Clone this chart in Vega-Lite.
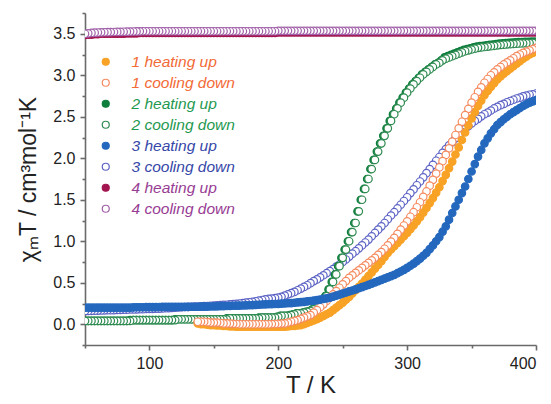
{
"$schema": "https://vega.github.io/schema/vega-lite/v6.json",
"autosize": "none",
"width": 451,
"height": 332,
"padding": {"left": 85, "top": 13, "right": 15, "bottom": 59},
"background": "white",
"config": {
  "view": {"stroke": null},
  "axis": {"grid": false, "domainColor": "#6a6a6a", "tickColor": "#6a6a6a", "domainWidth": 1.6, "tickWidth": 1.6, "labelColor": "#222222", "labelFont": "Liberation Sans", "labelFontSize": 16, "titleFont": "Liberation Sans", "titleColor": "#222222", "titleFontWeight": "normal"}
},
"data": {"values": [
{"s":"4h","T":50,"v":3.485},{"s":"4h","T":52.5,"v":3.49},{"s":"4h","T":55,"v":3.49},{"s":"4h","T":57.5,"v":3.495},{"s":"4h","T":60,"v":3.495},{"s":"4h","T":62.5,"v":3.5},{"s":"4h","T":65,"v":3.5},{"s":"4h","T":67.5,"v":3.5},{"s":"4h","T":70,"v":3.5},{"s":"4h","T":72.5,"v":3.5},{"s":"4h","T":75,"v":3.5},{"s":"4h","T":77.5,"v":3.5},{"s":"4h","T":80,"v":3.5},{"s":"4h","T":82.5,"v":3.505},{"s":"4h","T":85,"v":3.505},{"s":"4h","T":87.5,"v":3.505},{"s":"4h","T":90,"v":3.505},{"s":"4h","T":92.5,"v":3.51},{"s":"4h","T":95,"v":3.51},{"s":"4h","T":97.5,"v":3.51},{"s":"4h","T":100,"v":3.51},{"s":"4h","T":102.5,"v":3.51},{"s":"4h","T":105,"v":3.51},{"s":"4h","T":107.5,"v":3.51},{"s":"4h","T":110,"v":3.51},{"s":"4h","T":112.5,"v":3.51},{"s":"4h","T":115,"v":3.51},{"s":"4h","T":117.5,"v":3.51},{"s":"4h","T":120,"v":3.51},{"s":"4h","T":122.5,"v":3.51},{"s":"4h","T":125,"v":3.51},{"s":"4h","T":127.5,"v":3.51},{"s":"4h","T":130,"v":3.51},{"s":"4h","T":132.5,"v":3.51},{"s":"4h","T":135,"v":3.51},{"s":"4h","T":137.5,"v":3.51},{"s":"4h","T":140,"v":3.51},{"s":"4h","T":142.5,"v":3.51},{"s":"4h","T":145,"v":3.51},{"s":"4h","T":147.5,"v":3.51},{"s":"4h","T":150,"v":3.51},{"s":"4h","T":152.5,"v":3.51},{"s":"4h","T":155,"v":3.51},{"s":"4h","T":157.5,"v":3.51},{"s":"4h","T":160,"v":3.51},{"s":"4h","T":162.5,"v":3.51},{"s":"4h","T":165,"v":3.51},{"s":"4h","T":167.5,"v":3.51},{"s":"4h","T":170,"v":3.51},{"s":"4h","T":172.5,"v":3.51},{"s":"4h","T":175,"v":3.51},{"s":"4h","T":177.5,"v":3.51},{"s":"4h","T":180,"v":3.51},{"s":"4h","T":182.5,"v":3.51},{"s":"4h","T":185,"v":3.51},{"s":"4h","T":187.5,"v":3.51},{"s":"4h","T":190,"v":3.51},{"s":"4h","T":192.5,"v":3.51},{"s":"4h","T":195,"v":3.51},{"s":"4h","T":197.5,"v":3.51},{"s":"4h","T":200,"v":3.515},{"s":"4h","T":202.5,"v":3.515},{"s":"4h","T":205,"v":3.515},{"s":"4h","T":207.5,"v":3.515},{"s":"4h","T":210,"v":3.515},{"s":"4h","T":212.5,"v":3.515},{"s":"4h","T":215,"v":3.515},{"s":"4h","T":217.5,"v":3.515},{"s":"4h","T":220,"v":3.515},{"s":"4h","T":222.5,"v":3.515},{"s":"4h","T":225,"v":3.515},{"s":"4h","T":227.5,"v":3.515},{"s":"4h","T":230,"v":3.515},{"s":"4h","T":232.5,"v":3.515},{"s":"4h","T":235,"v":3.515},{"s":"4h","T":237.5,"v":3.515},{"s":"4h","T":240,"v":3.515},{"s":"4h","T":242.5,"v":3.515},{"s":"4h","T":245,"v":3.515},{"s":"4h","T":247.5,"v":3.515},{"s":"4h","T":250,"v":3.515},{"s":"4h","T":252.5,"v":3.515},{"s":"4h","T":255,"v":3.515},{"s":"4h","T":257.5,"v":3.515},{"s":"4h","T":260,"v":3.515},{"s":"4h","T":262.5,"v":3.515},{"s":"4h","T":265,"v":3.515},{"s":"4h","T":267.5,"v":3.515},{"s":"4h","T":270,"v":3.515},{"s":"4h","T":272.5,"v":3.515},{"s":"4h","T":275,"v":3.515},{"s":"4h","T":277.5,"v":3.515},{"s":"4h","T":280,"v":3.515},{"s":"4h","T":282.5,"v":3.515},{"s":"4h","T":285,"v":3.515},{"s":"4h","T":287.5,"v":3.515},{"s":"4h","T":290,"v":3.515},{"s":"4h","T":292.5,"v":3.515},{"s":"4h","T":295,"v":3.515},{"s":"4h","T":297.5,"v":3.515},{"s":"4h","T":300,"v":3.515},{"s":"4h","T":302.5,"v":3.515},{"s":"4h","T":305,"v":3.515},{"s":"4h","T":307.5,"v":3.515},{"s":"4h","T":310,"v":3.515},{"s":"4h","T":312.5,"v":3.515},{"s":"4h","T":315,"v":3.515},{"s":"4h","T":317.5,"v":3.515},{"s":"4h","T":320,"v":3.515},{"s":"4h","T":322.5,"v":3.515},{"s":"4h","T":325,"v":3.515},{"s":"4h","T":327.5,"v":3.515},{"s":"4h","T":330,"v":3.515},{"s":"4h","T":332.5,"v":3.515},{"s":"4h","T":335,"v":3.515},{"s":"4h","T":337.5,"v":3.515},{"s":"4h","T":340,"v":3.515},{"s":"4h","T":342.5,"v":3.515},{"s":"4h","T":345,"v":3.515},{"s":"4h","T":347.5,"v":3.515},{"s":"4h","T":350,"v":3.515},{"s":"4h","T":352.5,"v":3.515},{"s":"4h","T":355,"v":3.515},{"s":"4h","T":357.5,"v":3.515},{"s":"4h","T":360,"v":3.515},{"s":"4h","T":362.5,"v":3.515},{"s":"4h","T":365,"v":3.515},{"s":"4h","T":367.5,"v":3.515},{"s":"4h","T":370,"v":3.515},{"s":"4h","T":372.5,"v":3.515},{"s":"4h","T":375,"v":3.515},{"s":"4h","T":377.5,"v":3.515},{"s":"4h","T":380,"v":3.515},{"s":"4h","T":382.5,"v":3.515},{"s":"4h","T":385,"v":3.515},{"s":"4h","T":387.5,"v":3.515},{"s":"4h","T":390,"v":3.515},{"s":"4h","T":392.5,"v":3.515},{"s":"4h","T":395,"v":3.515},{"s":"4h","T":397.5,"v":3.515},{"s":"4h","T":400,"v":3.515},
{"s":"4c","T":400,"v":3.535},{"s":"4c","T":397.5,"v":3.535},{"s":"4c","T":395,"v":3.535},{"s":"4c","T":392.5,"v":3.535},{"s":"4c","T":390,"v":3.535},{"s":"4c","T":387.5,"v":3.535},{"s":"4c","T":385,"v":3.535},{"s":"4c","T":382.5,"v":3.535},{"s":"4c","T":380,"v":3.535},{"s":"4c","T":377.5,"v":3.535},{"s":"4c","T":375,"v":3.535},{"s":"4c","T":372.5,"v":3.535},{"s":"4c","T":370,"v":3.535},{"s":"4c","T":367.5,"v":3.535},{"s":"4c","T":365,"v":3.535},{"s":"4c","T":362.5,"v":3.535},{"s":"4c","T":360,"v":3.535},{"s":"4c","T":357.5,"v":3.535},{"s":"4c","T":355,"v":3.535},{"s":"4c","T":352.5,"v":3.535},{"s":"4c","T":350,"v":3.535},{"s":"4c","T":347.5,"v":3.535},{"s":"4c","T":345,"v":3.535},{"s":"4c","T":342.5,"v":3.535},{"s":"4c","T":340,"v":3.535},{"s":"4c","T":337.5,"v":3.535},{"s":"4c","T":335,"v":3.535},{"s":"4c","T":332.5,"v":3.535},{"s":"4c","T":330,"v":3.535},{"s":"4c","T":327.5,"v":3.535},{"s":"4c","T":325,"v":3.535},{"s":"4c","T":322.5,"v":3.535},{"s":"4c","T":320,"v":3.535},{"s":"4c","T":317.5,"v":3.535},{"s":"4c","T":315,"v":3.535},{"s":"4c","T":312.5,"v":3.535},{"s":"4c","T":310,"v":3.535},{"s":"4c","T":307.5,"v":3.535},{"s":"4c","T":305,"v":3.535},{"s":"4c","T":302.5,"v":3.535},{"s":"4c","T":300,"v":3.535},{"s":"4c","T":297.5,"v":3.535},{"s":"4c","T":295,"v":3.535},{"s":"4c","T":292.5,"v":3.535},{"s":"4c","T":290,"v":3.535},{"s":"4c","T":287.5,"v":3.535},{"s":"4c","T":285,"v":3.535},{"s":"4c","T":282.5,"v":3.535},{"s":"4c","T":280,"v":3.535},{"s":"4c","T":277.5,"v":3.535},{"s":"4c","T":275,"v":3.535},{"s":"4c","T":272.5,"v":3.535},{"s":"4c","T":270,"v":3.535},{"s":"4c","T":267.5,"v":3.535},{"s":"4c","T":265,"v":3.535},{"s":"4c","T":262.5,"v":3.535},{"s":"4c","T":260,"v":3.535},{"s":"4c","T":257.5,"v":3.535},{"s":"4c","T":255,"v":3.535},{"s":"4c","T":252.5,"v":3.535},{"s":"4c","T":250,"v":3.535},{"s":"4c","T":247.5,"v":3.535},{"s":"4c","T":245,"v":3.535},{"s":"4c","T":242.5,"v":3.535},{"s":"4c","T":240,"v":3.535},{"s":"4c","T":237.5,"v":3.535},{"s":"4c","T":235,"v":3.535},{"s":"4c","T":232.5,"v":3.535},{"s":"4c","T":230,"v":3.535},{"s":"4c","T":227.5,"v":3.535},{"s":"4c","T":225,"v":3.535},{"s":"4c","T":222.5,"v":3.535},{"s":"4c","T":220,"v":3.535},{"s":"4c","T":217.5,"v":3.535},{"s":"4c","T":215,"v":3.535},{"s":"4c","T":212.5,"v":3.535},{"s":"4c","T":210,"v":3.535},{"s":"4c","T":207.5,"v":3.535},{"s":"4c","T":205,"v":3.535},{"s":"4c","T":202.5,"v":3.535},{"s":"4c","T":200,"v":3.535},{"s":"4c","T":197.5,"v":3.53},{"s":"4c","T":195,"v":3.53},{"s":"4c","T":192.5,"v":3.53},{"s":"4c","T":190,"v":3.53},{"s":"4c","T":187.5,"v":3.53},{"s":"4c","T":185,"v":3.53},{"s":"4c","T":182.5,"v":3.53},{"s":"4c","T":180,"v":3.53},{"s":"4c","T":177.5,"v":3.53},{"s":"4c","T":175,"v":3.53},{"s":"4c","T":172.5,"v":3.53},{"s":"4c","T":170,"v":3.53},{"s":"4c","T":167.5,"v":3.53},{"s":"4c","T":165,"v":3.53},{"s":"4c","T":162.5,"v":3.53},{"s":"4c","T":160,"v":3.53},{"s":"4c","T":157.5,"v":3.53},{"s":"4c","T":155,"v":3.53},{"s":"4c","T":152.5,"v":3.53},{"s":"4c","T":150,"v":3.53},{"s":"4c","T":147.5,"v":3.53},{"s":"4c","T":145,"v":3.53},{"s":"4c","T":142.5,"v":3.53},{"s":"4c","T":140,"v":3.53},{"s":"4c","T":137.5,"v":3.53},{"s":"4c","T":135,"v":3.53},{"s":"4c","T":132.5,"v":3.53},{"s":"4c","T":130,"v":3.53},{"s":"4c","T":127.5,"v":3.53},{"s":"4c","T":125,"v":3.53},{"s":"4c","T":122.5,"v":3.53},{"s":"4c","T":120,"v":3.53},{"s":"4c","T":117.5,"v":3.53},{"s":"4c","T":115,"v":3.53},{"s":"4c","T":112.5,"v":3.53},{"s":"4c","T":110,"v":3.53},{"s":"4c","T":107.5,"v":3.53},{"s":"4c","T":105,"v":3.53},{"s":"4c","T":102.5,"v":3.53},{"s":"4c","T":100,"v":3.53},{"s":"4c","T":97.5,"v":3.53},{"s":"4c","T":95,"v":3.53},{"s":"4c","T":92.5,"v":3.529},{"s":"4c","T":90,"v":3.528},{"s":"4c","T":87.5,"v":3.527},{"s":"4c","T":85,"v":3.526},{"s":"4c","T":82.5,"v":3.525},{"s":"4c","T":80,"v":3.524},{"s":"4c","T":77.5,"v":3.523},{"s":"4c","T":75,"v":3.522},{"s":"4c","T":72.5,"v":3.521},{"s":"4c","T":70,"v":3.52},{"s":"4c","T":67.5,"v":3.519},{"s":"4c","T":65,"v":3.518},{"s":"4c","T":62.5,"v":3.517},{"s":"4c","T":60,"v":3.515},{"s":"4c","T":57.5,"v":3.513},{"s":"4c","T":55,"v":3.51},{"s":"4c","T":52.5,"v":3.505},{"s":"4c","T":50,"v":3.5},
{"s":"3c","T":400,"v":2.78},{"s":"3c","T":397.5,"v":2.77},{"s":"3c","T":395,"v":2.765},{"s":"3c","T":392.5,"v":2.755},{"s":"3c","T":390,"v":2.745},{"s":"3c","T":387.5,"v":2.73},{"s":"3c","T":385,"v":2.72},{"s":"3c","T":382.5,"v":2.705},{"s":"3c","T":380,"v":2.69},{"s":"3c","T":377.5,"v":2.675},{"s":"3c","T":375,"v":2.655},{"s":"3c","T":372.5,"v":2.64},{"s":"3c","T":370,"v":2.62},{"s":"3c","T":367.5,"v":2.6},{"s":"3c","T":365,"v":2.575},{"s":"3c","T":362.5,"v":2.55},{"s":"3c","T":360,"v":2.53},{"s":"3c","T":357.5,"v":2.505},{"s":"3c","T":355,"v":2.475},{"s":"3c","T":352.5,"v":2.45},{"s":"3c","T":350,"v":2.42},{"s":"3c","T":347.5,"v":2.385},{"s":"3c","T":345,"v":2.35},{"s":"3c","T":342.5,"v":2.315},{"s":"3c","T":340,"v":2.28},{"s":"3c","T":337.5,"v":2.24},{"s":"3c","T":335,"v":2.195},{"s":"3c","T":332.5,"v":2.155},{"s":"3c","T":330,"v":2.11},{"s":"3c","T":327.5,"v":2.065},{"s":"3c","T":325,"v":2.015},{"s":"3c","T":322.5,"v":1.97},{"s":"3c","T":320,"v":1.92},{"s":"3c","T":317.5,"v":1.87},{"s":"3c","T":315,"v":1.82},{"s":"3c","T":312.5,"v":1.77},{"s":"3c","T":310,"v":1.72},{"s":"3c","T":307.5,"v":1.675},{"s":"3c","T":305,"v":1.625},{"s":"3c","T":302.5,"v":1.58},{"s":"3c","T":300,"v":1.53},{"s":"3c","T":297.5,"v":1.485},{"s":"3c","T":295,"v":1.44},{"s":"3c","T":292.5,"v":1.395},{"s":"3c","T":290,"v":1.35},{"s":"3c","T":287.5,"v":1.31},{"s":"3c","T":285,"v":1.265},{"s":"3c","T":282.5,"v":1.22},{"s":"3c","T":280,"v":1.18},{"s":"3c","T":277.5,"v":1.14},{"s":"3c","T":275,"v":1.1},{"s":"3c","T":272.5,"v":1.06},{"s":"3c","T":270,"v":1.02},{"s":"3c","T":267.5,"v":0.985},{"s":"3c","T":265,"v":0.95},{"s":"3c","T":262.5,"v":0.915},{"s":"3c","T":260,"v":0.88},{"s":"3c","T":257.5,"v":0.85},{"s":"3c","T":255,"v":0.815},{"s":"3c","T":252.5,"v":0.78},{"s":"3c","T":250,"v":0.75},{"s":"3c","T":247.5,"v":0.72},{"s":"3c","T":245,"v":0.695},{"s":"3c","T":242.5,"v":0.665},{"s":"3c","T":240,"v":0.64},{"s":"3c","T":237.5,"v":0.615},{"s":"3c","T":235,"v":0.59},{"s":"3c","T":232.5,"v":0.565},{"s":"3c","T":230,"v":0.54},{"s":"3c","T":227.5,"v":0.52},{"s":"3c","T":225,"v":0.495},{"s":"3c","T":222.5,"v":0.47},{"s":"3c","T":220,"v":0.45},{"s":"3c","T":217.5,"v":0.43},{"s":"3c","T":215,"v":0.41},{"s":"3c","T":212.5,"v":0.39},{"s":"3c","T":210,"v":0.375},{"s":"3c","T":207.5,"v":0.36},{"s":"3c","T":205,"v":0.345},{"s":"3c","T":202.5,"v":0.33},{"s":"3c","T":200,"v":0.32},{"s":"3c","T":197.5,"v":0.315},{"s":"3c","T":195,"v":0.31},{"s":"3c","T":192.5,"v":0.305},{"s":"3c","T":190,"v":0.3},{"s":"3c","T":187.5,"v":0.292},{"s":"3c","T":185,"v":0.285},{"s":"3c","T":182.5,"v":0.277},{"s":"3c","T":180,"v":0.27},{"s":"3c","T":177.5,"v":0.265},{"s":"3c","T":175,"v":0.26},{"s":"3c","T":172.5,"v":0.255},{"s":"3c","T":170,"v":0.25},{"s":"3c","T":167.5,"v":0.246},{"s":"3c","T":165,"v":0.243},{"s":"3c","T":162.5,"v":0.239},{"s":"3c","T":160,"v":0.235},{"s":"3c","T":157.5,"v":0.233},{"s":"3c","T":155,"v":0.23},{"s":"3c","T":152.5,"v":0.228},{"s":"3c","T":150,"v":0.225},{"s":"3c","T":147.5,"v":0.223},{"s":"3c","T":145,"v":0.22},{"s":"3c","T":142.5,"v":0.218},{"s":"3c","T":140,"v":0.215},{"s":"3c","T":137.5,"v":0.214},{"s":"3c","T":135,"v":0.213},{"s":"3c","T":132.5,"v":0.211},{"s":"3c","T":130,"v":0.21},{"s":"3c","T":127.5,"v":0.208},{"s":"3c","T":125,"v":0.205},{"s":"3c","T":122.5,"v":0.203},{"s":"3c","T":120,"v":0.2},{"s":"3c","T":117.5,"v":0.198},{"s":"3c","T":115,"v":0.195},{"s":"3c","T":112.5,"v":0.193},{"s":"3c","T":110,"v":0.19},{"s":"3c","T":107.5,"v":0.189},{"s":"3c","T":105,"v":0.188},{"s":"3c","T":102.5,"v":0.186},{"s":"3c","T":100,"v":0.185},{"s":"3c","T":97.5,"v":0.184},{"s":"3c","T":95,"v":0.182},{"s":"3c","T":92.5,"v":0.181},{"s":"3c","T":90,"v":0.18},{"s":"3c","T":87.5,"v":0.179},{"s":"3c","T":85,"v":0.178},{"s":"3c","T":82.5,"v":0.176},{"s":"3c","T":80,"v":0.175},{"s":"3c","T":77.5,"v":0.174},{"s":"3c","T":75,"v":0.172},{"s":"3c","T":72.5,"v":0.171},{"s":"3c","T":70,"v":0.17},{"s":"3c","T":67.5,"v":0.169},{"s":"3c","T":65,"v":0.168},{"s":"3c","T":62.5,"v":0.166},{"s":"3c","T":60,"v":0.165},{"s":"3c","T":57.5,"v":0.164},{"s":"3c","T":55,"v":0.162},{"s":"3c","T":52.5,"v":0.16},{"s":"3c","T":50,"v":0.16},
{"s":"2h","T":50,"v":0.04},{"s":"2h","T":52.5,"v":0.04},{"s":"2h","T":55,"v":0.04},{"s":"2h","T":57.5,"v":0.04},{"s":"2h","T":60,"v":0.04},{"s":"2h","T":62.5,"v":0.04},{"s":"2h","T":65,"v":0.04},{"s":"2h","T":67.5,"v":0.04},{"s":"2h","T":70,"v":0.04},{"s":"2h","T":72.5,"v":0.04},{"s":"2h","T":75,"v":0.04},{"s":"2h","T":77.5,"v":0.04},{"s":"2h","T":80,"v":0.04},{"s":"2h","T":82.5,"v":0.04},{"s":"2h","T":85,"v":0.05},{"s":"2h","T":87.5,"v":0.05},{"s":"2h","T":90,"v":0.05},{"s":"2h","T":92.5,"v":0.05},{"s":"2h","T":95,"v":0.05},{"s":"2h","T":97.5,"v":0.05},{"s":"2h","T":100,"v":0.05},{"s":"2h","T":102.5,"v":0.05},{"s":"2h","T":105,"v":0.05},{"s":"2h","T":107.5,"v":0.05},{"s":"2h","T":110,"v":0.05},{"s":"2h","T":112.5,"v":0.05},{"s":"2h","T":115,"v":0.05},{"s":"2h","T":117.5,"v":0.05},{"s":"2h","T":120,"v":0.06},{"s":"2h","T":122.5,"v":0.06},{"s":"2h","T":125,"v":0.06},{"s":"2h","T":127.5,"v":0.06},{"s":"2h","T":130,"v":0.06},{"s":"2h","T":132.5,"v":0.06},{"s":"2h","T":135,"v":0.06},{"s":"2h","T":137.5,"v":0.06},{"s":"2h","T":140,"v":0.06},{"s":"2h","T":142.5,"v":0.06},{"s":"2h","T":145,"v":0.06},{"s":"2h","T":147.5,"v":0.06},{"s":"2h","T":150,"v":0.06},{"s":"2h","T":152.5,"v":0.06},{"s":"2h","T":155,"v":0.06},{"s":"2h","T":157.5,"v":0.06},{"s":"2h","T":160,"v":0.07},{"s":"2h","T":162.5,"v":0.07},{"s":"2h","T":165,"v":0.07},{"s":"2h","T":167.5,"v":0.07},{"s":"2h","T":170,"v":0.07},{"s":"2h","T":172.5,"v":0.07},{"s":"2h","T":175,"v":0.07},{"s":"2h","T":177.5,"v":0.07},{"s":"2h","T":180,"v":0.07},{"s":"2h","T":182.5,"v":0.07},{"s":"2h","T":185,"v":0.08},{"s":"2h","T":187.5,"v":0.08},{"s":"2h","T":190,"v":0.08},{"s":"2h","T":192.5,"v":0.08},{"s":"2h","T":195,"v":0.08},{"s":"2h","T":197.5,"v":0.08},
{"s":"2h","T":199,"v":0.09},{"s":"2h","T":201.5,"v":0.1},{"s":"2h","T":204,"v":0.1},{"s":"2h","T":206.5,"v":0.1},{"s":"2h","T":209,"v":0.11},{"s":"2h","T":211.5,"v":0.12},{"s":"2h","T":214,"v":0.13},{"s":"2h","T":216.5,"v":0.13},{"s":"2h","T":219,"v":0.14},{"s":"2h","T":221.5,"v":0.15},{"s":"2h","T":224,"v":0.16},{"s":"2h","T":226.5,"v":0.18},{"s":"2h","T":229,"v":0.2},{"s":"2h","T":231.5,"v":0.24},{"s":"2h","T":234,"v":0.28},{"s":"2h","T":236.5,"v":0.34},{"s":"2h","T":239,"v":0.42},{"s":"2h","T":241.5,"v":0.51},{"s":"2h","T":244,"v":0.6},{"s":"2h","T":246.5,"v":0.7},{"s":"2h","T":249,"v":0.8},{"s":"2h","T":251.5,"v":0.9},{"s":"2h","T":254,"v":1.0},{"s":"2h","T":256.5,"v":1.11},{"s":"2h","T":259,"v":1.22},{"s":"2h","T":261.5,"v":1.36},{"s":"2h","T":264,"v":1.5},{"s":"2h","T":266.5,"v":1.63},{"s":"2h","T":269,"v":1.75},{"s":"2h","T":271.5,"v":1.87},{"s":"2h","T":274,"v":1.98},{"s":"2h","T":276.5,"v":2.08},{"s":"2h","T":279,"v":2.18},{"s":"2h","T":281.5,"v":2.27},{"s":"2h","T":284,"v":2.36},{"s":"2h","T":286.5,"v":2.45},{"s":"2h","T":289,"v":2.53},{"s":"2h","T":291.5,"v":2.6},{"s":"2h","T":294,"v":2.67},{"s":"2h","T":296.5,"v":2.73},{"s":"2h","T":299,"v":2.79},{"s":"2h","T":301.5,"v":2.84},{"s":"2h","T":304,"v":2.89},{"s":"2h","T":306.5,"v":2.93},{"s":"2h","T":309,"v":2.97},{"s":"2h","T":311.5,"v":3.01},{"s":"2h","T":314,"v":3.04},{"s":"2h","T":316.5,"v":3.07},{"s":"2h","T":319,"v":3.1},{"s":"2h","T":321.5,"v":3.13},{"s":"2h","T":324,"v":3.15},{"s":"2h","T":326.5,"v":3.18},{"s":"2h","T":329,"v":3.215},{"s":"2h","T":331.5,"v":3.23},{"s":"2h","T":334,"v":3.245},{"s":"2h","T":336.5,"v":3.26},{"s":"2h","T":339,"v":3.275},{"s":"2h","T":341.5,"v":3.29},{"s":"2h","T":344,"v":3.305},{"s":"2h","T":346.5,"v":3.315},{"s":"2h","T":349,"v":3.325},{"s":"2h","T":351.5,"v":3.335},{"s":"2h","T":354,"v":3.345},{"s":"2h","T":356.5,"v":3.35},{"s":"2h","T":359,"v":3.355},{"s":"2h","T":361.5,"v":3.36},{"s":"2h","T":364,"v":3.365},{"s":"2h","T":366.5,"v":3.37},{"s":"2h","T":369,"v":3.375},{"s":"2h","T":371.5,"v":3.38},{"s":"2h","T":374,"v":3.383},{"s":"2h","T":376.5,"v":3.387},{"s":"2h","T":379,"v":3.39},{"s":"2h","T":381.5,"v":3.393},{"s":"2h","T":384,"v":3.395},{"s":"2h","T":386.5,"v":3.398},{"s":"2h","T":389,"v":3.4},{"s":"2h","T":391.5,"v":3.402},{"s":"2h","T":394,"v":3.403},{"s":"2h","T":396.5,"v":3.405},{"s":"2h","T":399,"v":3.405},
{"s":"2c","T":400,"v":3.39},{"s":"2c","T":397.5,"v":3.39},{"s":"2c","T":395,"v":3.388},{"s":"2c","T":392.5,"v":3.387},{"s":"2c","T":390,"v":3.385},{"s":"2c","T":387.5,"v":3.383},{"s":"2c","T":385,"v":3.38},{"s":"2c","T":382.5,"v":3.378},{"s":"2c","T":380,"v":3.375},{"s":"2c","T":377.5,"v":3.372},{"s":"2c","T":375,"v":3.368},{"s":"2c","T":372.5,"v":3.365},{"s":"2c","T":370,"v":3.36},{"s":"2c","T":367.5,"v":3.355},{"s":"2c","T":365,"v":3.35},{"s":"2c","T":362.5,"v":3.345},{"s":"2c","T":360,"v":3.34},{"s":"2c","T":357.5,"v":3.335},{"s":"2c","T":355,"v":3.33},{"s":"2c","T":352.5,"v":3.32},{"s":"2c","T":350,"v":3.31},{"s":"2c","T":347.5,"v":3.3},{"s":"2c","T":345,"v":3.29},{"s":"2c","T":342.5,"v":3.275},{"s":"2c","T":340,"v":3.26},{"s":"2c","T":337.5,"v":3.245},{"s":"2c","T":335,"v":3.23},{"s":"2c","T":332.5,"v":3.215},{"s":"2c","T":330,"v":3.2},{"s":"2c","T":327.5,"v":3.18},{"s":"2c","T":325,"v":3.15},{"s":"2c","T":322.5,"v":3.13},{"s":"2c","T":320,"v":3.1},{"s":"2c","T":317.5,"v":3.07},{"s":"2c","T":315,"v":3.04},{"s":"2c","T":312.5,"v":3.01},{"s":"2c","T":310,"v":2.97},{"s":"2c","T":307.5,"v":2.93},{"s":"2c","T":305,"v":2.89},{"s":"2c","T":302.5,"v":2.84},{"s":"2c","T":300,"v":2.79},{"s":"2c","T":297.5,"v":2.73},{"s":"2c","T":295,"v":2.67},{"s":"2c","T":292.5,"v":2.6},{"s":"2c","T":290,"v":2.53},{"s":"2c","T":287.5,"v":2.45},{"s":"2c","T":285,"v":2.36},{"s":"2c","T":282.5,"v":2.27},{"s":"2c","T":280,"v":2.18},{"s":"2c","T":277.5,"v":2.08},{"s":"2c","T":275,"v":1.98},{"s":"2c","T":272.5,"v":1.87},{"s":"2c","T":270,"v":1.75},{"s":"2c","T":267.5,"v":1.63},{"s":"2c","T":265,"v":1.5},{"s":"2c","T":262.5,"v":1.36},{"s":"2c","T":260,"v":1.22},{"s":"2c","T":257.5,"v":1.11},{"s":"2c","T":255,"v":1.0},{"s":"2c","T":252.5,"v":0.9},{"s":"2c","T":250,"v":0.8},{"s":"2c","T":247.5,"v":0.7},{"s":"2c","T":245,"v":0.6},{"s":"2c","T":242.5,"v":0.51},{"s":"2c","T":240,"v":0.42},{"s":"2c","T":237.5,"v":0.34},{"s":"2c","T":235,"v":0.28},{"s":"2c","T":232.5,"v":0.24},{"s":"2c","T":230,"v":0.2},{"s":"2c","T":227.5,"v":0.18},{"s":"2c","T":225,"v":0.16},{"s":"2c","T":222.5,"v":0.15},{"s":"2c","T":220,"v":0.14},{"s":"2c","T":217.5,"v":0.13},{"s":"2c","T":215,"v":0.13},{"s":"2c","T":212.5,"v":0.12},{"s":"2c","T":210,"v":0.11},{"s":"2c","T":207.5,"v":0.1},{"s":"2c","T":205,"v":0.1},{"s":"2c","T":202.5,"v":0.1},{"s":"2c","T":200,"v":0.09},{"s":"2c","T":197.5,"v":0.08},{"s":"2c","T":195,"v":0.08},{"s":"2c","T":192.5,"v":0.08},{"s":"2c","T":190,"v":0.08},{"s":"2c","T":187.5,"v":0.08},{"s":"2c","T":185,"v":0.07},{"s":"2c","T":182.5,"v":0.07},{"s":"2c","T":180,"v":0.07},{"s":"2c","T":177.5,"v":0.07},{"s":"2c","T":175,"v":0.07},{"s":"2c","T":172.5,"v":0.07},{"s":"2c","T":170,"v":0.07},{"s":"2c","T":167.5,"v":0.07},{"s":"2c","T":165,"v":0.07},{"s":"2c","T":162.5,"v":0.07},{"s":"2c","T":160,"v":0.06},{"s":"2c","T":157.5,"v":0.06},{"s":"2c","T":155,"v":0.06},{"s":"2c","T":152.5,"v":0.06},{"s":"2c","T":150,"v":0.06},{"s":"2c","T":147.5,"v":0.06},{"s":"2c","T":145,"v":0.06},{"s":"2c","T":142.5,"v":0.06},{"s":"2c","T":140,"v":0.06},{"s":"2c","T":137.5,"v":0.06},{"s":"2c","T":135,"v":0.06},{"s":"2c","T":132.5,"v":0.06},{"s":"2c","T":130,"v":0.06},{"s":"2c","T":127.5,"v":0.06},{"s":"2c","T":125,"v":0.06},{"s":"2c","T":122.5,"v":0.06},{"s":"2c","T":120,"v":0.05},{"s":"2c","T":117.5,"v":0.05},{"s":"2c","T":115,"v":0.05},{"s":"2c","T":112.5,"v":0.05},{"s":"2c","T":110,"v":0.05},{"s":"2c","T":107.5,"v":0.05},{"s":"2c","T":105,"v":0.05},{"s":"2c","T":102.5,"v":0.05},{"s":"2c","T":100,"v":0.05},{"s":"2c","T":97.5,"v":0.05},{"s":"2c","T":95,"v":0.05},{"s":"2c","T":92.5,"v":0.05},{"s":"2c","T":90,"v":0.05},{"s":"2c","T":87.5,"v":0.05},{"s":"2c","T":85,"v":0.04},{"s":"2c","T":82.5,"v":0.04},{"s":"2c","T":80,"v":0.04},{"s":"2c","T":77.5,"v":0.04},{"s":"2c","T":75,"v":0.04},{"s":"2c","T":72.5,"v":0.04},{"s":"2c","T":70,"v":0.04},{"s":"2c","T":67.5,"v":0.04},{"s":"2c","T":65,"v":0.04},{"s":"2c","T":62.5,"v":0.04},{"s":"2c","T":60,"v":0.04},{"s":"2c","T":57.5,"v":0.04},{"s":"2c","T":55,"v":0.04},{"s":"2c","T":52.5,"v":0.04},{"s":"2c","T":50,"v":0.04},
{"s":"1h","T":137.5,"v":0.01},{"s":"1h","T":140,"v":0.0},{"s":"1h","T":142.5,"v":0.0},{"s":"1h","T":145,"v":-0.005},{"s":"1h","T":147.5,"v":-0.01},{"s":"1h","T":150,"v":-0.01},{"s":"1h","T":152.5,"v":-0.015},{"s":"1h","T":155,"v":-0.015},{"s":"1h","T":157.5,"v":-0.02},{"s":"1h","T":160,"v":-0.02},{"s":"1h","T":162.5,"v":-0.025},{"s":"1h","T":165,"v":-0.025},{"s":"1h","T":167.5,"v":-0.03},{"s":"1h","T":170,"v":-0.03},{"s":"1h","T":172.5,"v":-0.03},{"s":"1h","T":175,"v":-0.03},{"s":"1h","T":177.5,"v":-0.03},{"s":"1h","T":180,"v":-0.03},{"s":"1h","T":182.5,"v":-0.03},{"s":"1h","T":185,"v":-0.03},{"s":"1h","T":187.5,"v":-0.03},{"s":"1h","T":190,"v":-0.03},{"s":"1h","T":192.5,"v":-0.03},{"s":"1h","T":195,"v":-0.03},{"s":"1h","T":197.5,"v":-0.03},{"s":"1h","T":200,"v":-0.03},{"s":"1h","T":202.5,"v":-0.03},{"s":"1h","T":205,"v":-0.03},{"s":"1h","T":207.5,"v":-0.025},{"s":"1h","T":210,"v":-0.02},{"s":"1h","T":212.5,"v":-0.02},{"s":"1h","T":215,"v":-0.015},{"s":"1h","T":217.5,"v":-0.01},{"s":"1h","T":220,"v":0.0},{"s":"1h","T":222.5,"v":0.015},{"s":"1h","T":225,"v":0.03},{"s":"1h","T":227.5,"v":0.045},{"s":"1h","T":230,"v":0.06},{"s":"1h","T":232.5,"v":0.08},{"s":"1h","T":235,"v":0.1},{"s":"1h","T":237.5,"v":0.12},{"s":"1h","T":240,"v":0.14},{"s":"1h","T":242.5,"v":0.17},{"s":"1h","T":245,"v":0.2},{"s":"1h","T":247.5,"v":0.23},{"s":"1h","T":250,"v":0.26},{"s":"1h","T":252.5,"v":0.295},{"s":"1h","T":255,"v":0.33},{"s":"1h","T":257.5,"v":0.37},{"s":"1h","T":260,"v":0.41},{"s":"1h","T":262.5,"v":0.45},{"s":"1h","T":265,"v":0.49},{"s":"1h","T":267.5,"v":0.535},{"s":"1h","T":270,"v":0.58},{"s":"1h","T":272.5,"v":0.625},{"s":"1h","T":275,"v":0.67},{"s":"1h","T":277.5,"v":0.715},{"s":"1h","T":280,"v":0.76},{"s":"1h","T":282.5,"v":0.81},{"s":"1h","T":285,"v":0.86},{"s":"1h","T":287.5,"v":0.9},{"s":"1h","T":290,"v":0.94},{"s":"1h","T":292.5,"v":0.98},{"s":"1h","T":295,"v":1.02},{"s":"1h","T":297.5,"v":1.06},{"s":"1h","T":300,"v":1.1},{"s":"1h","T":302.5,"v":1.145},{"s":"1h","T":305,"v":1.19},{"s":"1h","T":307.5,"v":1.24},{"s":"1h","T":310,"v":1.29},{"s":"1h","T":312.5,"v":1.345},{"s":"1h","T":315,"v":1.4},{"s":"1h","T":317.5,"v":1.46},{"s":"1h","T":320,"v":1.52},{"s":"1h","T":322.5,"v":1.585},{"s":"1h","T":325,"v":1.65},{"s":"1h","T":327.5,"v":1.725},{"s":"1h","T":330,"v":1.8},{"s":"1h","T":332.5,"v":1.88},{"s":"1h","T":335,"v":1.96},{"s":"1h","T":337.5,"v":2.045},{"s":"1h","T":340,"v":2.13},{"s":"1h","T":342.5,"v":2.22},{"s":"1h","T":345,"v":2.31},{"s":"1h","T":347.5,"v":2.395},{"s":"1h","T":350,"v":2.48},{"s":"1h","T":352.5,"v":2.555},{"s":"1h","T":355,"v":2.63},{"s":"1h","T":357.5,"v":2.695},{"s":"1h","T":360,"v":2.76},{"s":"1h","T":362.5,"v":2.81},{"s":"1h","T":365,"v":2.86},{"s":"1h","T":367.5,"v":2.905},{"s":"1h","T":370,"v":2.95},{"s":"1h","T":372.5,"v":2.985},{"s":"1h","T":375,"v":3.02},{"s":"1h","T":377.5,"v":3.05},{"s":"1h","T":380,"v":3.08},{"s":"1h","T":382.5,"v":3.11},{"s":"1h","T":385,"v":3.14},{"s":"1h","T":387.5,"v":3.17},{"s":"1h","T":390,"v":3.2},{"s":"1h","T":392.5,"v":3.225},{"s":"1h","T":395,"v":3.25},{"s":"1h","T":397.5,"v":3.27},{"s":"1h","T":400,"v":3.29},
{"s":"1c","T":400,"v":3.33},{"s":"1c","T":397.5,"v":3.315},{"s":"1c","T":395,"v":3.3},{"s":"1c","T":392.5,"v":3.285},{"s":"1c","T":390,"v":3.27},{"s":"1c","T":387.5,"v":3.25},{"s":"1c","T":385,"v":3.23},{"s":"1c","T":382.5,"v":3.205},{"s":"1c","T":380,"v":3.18},{"s":"1c","T":377.5,"v":3.155},{"s":"1c","T":375,"v":3.13},{"s":"1c","T":372.5,"v":3.1},{"s":"1c","T":370,"v":3.07},{"s":"1c","T":367.5,"v":3.035},{"s":"1c","T":365,"v":3.0},{"s":"1c","T":362.5,"v":2.955},{"s":"1c","T":360,"v":2.91},{"s":"1c","T":357.5,"v":2.855},{"s":"1c","T":355,"v":2.8},{"s":"1c","T":352.5,"v":2.735},{"s":"1c","T":350,"v":2.67},{"s":"1c","T":347.5,"v":2.595},{"s":"1c","T":345,"v":2.52},{"s":"1c","T":342.5,"v":2.44},{"s":"1c","T":340,"v":2.36},{"s":"1c","T":337.5,"v":2.28},{"s":"1c","T":335,"v":2.2},{"s":"1c","T":332.5,"v":2.12},{"s":"1c","T":330,"v":2.04},{"s":"1c","T":327.5,"v":1.965},{"s":"1c","T":325,"v":1.89},{"s":"1c","T":322.5,"v":1.815},{"s":"1c","T":320,"v":1.74},{"s":"1c","T":317.5,"v":1.67},{"s":"1c","T":315,"v":1.6},{"s":"1c","T":312.5,"v":1.535},{"s":"1c","T":310,"v":1.47},{"s":"1c","T":307.5,"v":1.41},{"s":"1c","T":305,"v":1.35},{"s":"1c","T":302.5,"v":1.295},{"s":"1c","T":300,"v":1.24},{"s":"1c","T":297.5,"v":1.19},{"s":"1c","T":295,"v":1.14},{"s":"1c","T":292.5,"v":1.09},{"s":"1c","T":290,"v":1.04},{"s":"1c","T":287.5,"v":0.995},{"s":"1c","T":285,"v":0.95},{"s":"1c","T":282.5,"v":0.91},{"s":"1c","T":280,"v":0.87},{"s":"1c","T":277.5,"v":0.835},{"s":"1c","T":275,"v":0.8},{"s":"1c","T":272.5,"v":0.77},{"s":"1c","T":270,"v":0.74},{"s":"1c","T":267.5,"v":0.71},{"s":"1c","T":265,"v":0.68},{"s":"1c","T":262.5,"v":0.65},{"s":"1c","T":260,"v":0.62},{"s":"1c","T":257.5,"v":0.59},{"s":"1c","T":255,"v":0.56},{"s":"1c","T":252.5,"v":0.52},{"s":"1c","T":250,"v":0.48},{"s":"1c","T":247.5,"v":0.44},{"s":"1c","T":245,"v":0.4},{"s":"1c","T":242.5,"v":0.36},{"s":"1c","T":240,"v":0.32},{"s":"1c","T":237.5,"v":0.28},{"s":"1c","T":235,"v":0.24},{"s":"1c","T":232.5,"v":0.205},{"s":"1c","T":230,"v":0.17},{"s":"1c","T":227.5,"v":0.14},{"s":"1c","T":225,"v":0.11},{"s":"1c","T":222.5,"v":0.095},{"s":"1c","T":220,"v":0.08},{"s":"1c","T":217.5,"v":0.065},{"s":"1c","T":215,"v":0.05},{"s":"1c","T":212.5,"v":0.04},{"s":"1c","T":210,"v":0.03},{"s":"1c","T":207.5,"v":0.02},{"s":"1c","T":205,"v":0.01},{"s":"1c","T":202.5,"v":0.008},{"s":"1c","T":200,"v":0.005},{"s":"1c","T":197.5,"v":0.003},{"s":"1c","T":195,"v":0.002},{"s":"1c","T":192.5,"v":0.0},{"s":"1c","T":190,"v":0.0},{"s":"1c","T":187.5,"v":0.0},{"s":"1c","T":185,"v":0.0},{"s":"1c","T":182.5,"v":0.0},{"s":"1c","T":180,"v":0.0},{"s":"1c","T":177.5,"v":0.0},{"s":"1c","T":175,"v":0.0},{"s":"1c","T":172.5,"v":0.0},{"s":"1c","T":170,"v":0.0},{"s":"1c","T":167.5,"v":0.003},{"s":"1c","T":165,"v":0.005},{"s":"1c","T":162.5,"v":0.008},{"s":"1c","T":160,"v":0.01},{"s":"1c","T":157.5,"v":0.01},{"s":"1c","T":155,"v":0.015},{"s":"1c","T":152.5,"v":0.02},{"s":"1c","T":150,"v":0.02},{"s":"1c","T":147.5,"v":0.02},{"s":"1c","T":145,"v":0.025},{"s":"1c","T":142.5,"v":0.03},{"s":"1c","T":140,"v":0.03},{"s":"1c","T":137.5,"v":0.03},
{"s":"3h","T":50,"v":0.2},{"s":"3h","T":52.5,"v":0.2},{"s":"3h","T":55,"v":0.2},{"s":"3h","T":57.5,"v":0.2},{"s":"3h","T":60,"v":0.2},{"s":"3h","T":62.5,"v":0.2},{"s":"3h","T":65,"v":0.2},{"s":"3h","T":67.5,"v":0.2},{"s":"3h","T":70,"v":0.2},{"s":"3h","T":72.5,"v":0.2},{"s":"3h","T":75,"v":0.2},{"s":"3h","T":77.5,"v":0.2},{"s":"3h","T":80,"v":0.2},{"s":"3h","T":82.5,"v":0.2},{"s":"3h","T":85,"v":0.2},{"s":"3h","T":87.5,"v":0.203},{"s":"3h","T":90,"v":0.205},{"s":"3h","T":92.5,"v":0.205},{"s":"3h","T":95,"v":0.205},{"s":"3h","T":97.5,"v":0.206},{"s":"3h","T":100,"v":0.206},{"s":"3h","T":102.5,"v":0.207},{"s":"3h","T":105,"v":0.207},{"s":"3h","T":107.5,"v":0.208},{"s":"3h","T":110,"v":0.21},{"s":"3h","T":112.5,"v":0.21},{"s":"3h","T":115,"v":0.21},{"s":"3h","T":117.5,"v":0.21},{"s":"3h","T":120,"v":0.21},{"s":"3h","T":122.5,"v":0.21},{"s":"3h","T":125,"v":0.21},{"s":"3h","T":127.5,"v":0.21},{"s":"3h","T":130,"v":0.21},{"s":"3h","T":132.5,"v":0.211},{"s":"3h","T":135,"v":0.211},{"s":"3h","T":137.5,"v":0.211},{"s":"3h","T":140,"v":0.212},{"s":"3h","T":142.5,"v":0.212},{"s":"3h","T":145,"v":0.213},{"s":"3h","T":147.5,"v":0.214},{"s":"3h","T":150,"v":0.215},{"s":"3h","T":152.5,"v":0.216},{"s":"3h","T":155,"v":0.218},{"s":"3h","T":157.5,"v":0.219},{"s":"3h","T":160,"v":0.22},{"s":"3h","T":162.5,"v":0.221},{"s":"3h","T":165,"v":0.223},{"s":"3h","T":167.5,"v":0.224},{"s":"3h","T":170,"v":0.225},{"s":"3h","T":172.5,"v":0.226},{"s":"3h","T":175,"v":0.228},{"s":"3h","T":177.5,"v":0.229},{"s":"3h","T":180,"v":0.23},{"s":"3h","T":182.5,"v":0.233},{"s":"3h","T":185,"v":0.235},{"s":"3h","T":187.5,"v":0.238},{"s":"3h","T":190,"v":0.24},{"s":"3h","T":192.5,"v":0.241},{"s":"3h","T":195,"v":0.243},{"s":"3h","T":197.5,"v":0.244},{"s":"3h","T":200,"v":0.245},{"s":"3h","T":202.5,"v":0.248},{"s":"3h","T":205,"v":0.25},{"s":"3h","T":207.5,"v":0.253},{"s":"3h","T":210,"v":0.255},{"s":"3h","T":212.5,"v":0.259},{"s":"3h","T":215,"v":0.263},{"s":"3h","T":217.5,"v":0.266},{"s":"3h","T":220,"v":0.27},{"s":"3h","T":222.5,"v":0.275},{"s":"3h","T":225,"v":0.28},{"s":"3h","T":227.5,"v":0.285},{"s":"3h","T":230,"v":0.29},{"s":"3h","T":232.5,"v":0.297},{"s":"3h","T":235,"v":0.305},{"s":"3h","T":237.5,"v":0.312},{"s":"3h","T":240,"v":0.32},{"s":"3h","T":242.5,"v":0.332},{"s":"3h","T":245,"v":0.345},{"s":"3h","T":247.5,"v":0.357},{"s":"3h","T":250,"v":0.37},{"s":"3h","T":252.5,"v":0.382},{"s":"3h","T":255,"v":0.395},{"s":"3h","T":257.5,"v":0.407},{"s":"3h","T":260,"v":0.42},{"s":"3h","T":262.5,"v":0.434},{"s":"3h","T":265,"v":0.448},{"s":"3h","T":267.5,"v":0.461},{"s":"3h","T":270,"v":0.475},{"s":"3h","T":272.5,"v":0.49},{"s":"3h","T":275,"v":0.505},{"s":"3h","T":277.5,"v":0.52},{"s":"3h","T":280,"v":0.535},{"s":"3h","T":282.5,"v":0.55},{"s":"3h","T":285,"v":0.565},{"s":"3h","T":287.5,"v":0.58},{"s":"3h","T":290,"v":0.595},{"s":"3h","T":292.5,"v":0.615},{"s":"3h","T":295,"v":0.635},{"s":"3h","T":297.5,"v":0.655},{"s":"3h","T":300,"v":0.68},{"s":"3h","T":302.5,"v":0.705},{"s":"3h","T":305,"v":0.73},{"s":"3h","T":307.5,"v":0.76},{"s":"3h","T":310,"v":0.79},{"s":"3h","T":312.5,"v":0.825},{"s":"3h","T":315,"v":0.86},{"s":"3h","T":317.5,"v":0.905},{"s":"3h","T":320,"v":0.95},{"s":"3h","T":322.5,"v":1.0},{"s":"3h","T":325,"v":1.05},{"s":"3h","T":327.5,"v":1.115},{"s":"3h","T":330,"v":1.18},{"s":"3h","T":332.5,"v":1.26},{"s":"3h","T":335,"v":1.34},{"s":"3h","T":337.5,"v":1.42},{"s":"3h","T":340,"v":1.5},{"s":"3h","T":342.5,"v":1.58},{"s":"3h","T":345,"v":1.66},{"s":"3h","T":347.5,"v":1.75},{"s":"3h","T":350,"v":1.84},{"s":"3h","T":352.5,"v":1.93},{"s":"3h","T":355,"v":2.02},{"s":"3h","T":357.5,"v":2.1},{"s":"3h","T":360,"v":2.18},{"s":"3h","T":362.5,"v":2.24},{"s":"3h","T":365,"v":2.3},{"s":"3h","T":367.5,"v":2.35},{"s":"3h","T":370,"v":2.4},{"s":"3h","T":372.5,"v":2.435},{"s":"3h","T":375,"v":2.47},{"s":"3h","T":377.5,"v":2.5},{"s":"3h","T":380,"v":2.53},{"s":"3h","T":382.5,"v":2.555},{"s":"3h","T":385,"v":2.58},{"s":"3h","T":387.5,"v":2.605},{"s":"3h","T":390,"v":2.63},{"s":"3h","T":392.5,"v":2.65},{"s":"3h","T":395,"v":2.67},{"s":"3h","T":397.5,"v":2.685},{"s":"3h","T":400,"v":2.7}
]},
"layer": [
  {
    "mark": {"type": "point", "shape": "circle", "size": 56, "strokeWidth": 1.2, "opacity": 1, "clip": true},
    "encoding": {
      "x": {"field": "T", "type": "quantitative", "scale": {"domain": [50, 400], "nice": false, "zero": false},
            "axis": {"orient": "bottom", "values": [100, 200, 300, 400], "format": "d", "tickSize": 5, "labelPadding": 5, "title": "T / K", "titleFontSize": 24, "titlePadding": 2}},
      "y": {"field": "v", "type": "quantitative", "scale": {"domain": [-0.25, 3.75], "nice": false, "zero": false},
            "axis": {"orient": "left", "values": [0, 0.5, 1, 1.5, 2, 2.5, 3, 3.5], "format": ".1f", "tickSize": 5, "labelPadding": 5, "title": "χₘT / cm³mol⁻¹K", "titleFontSize": 23, "titlePadding": 12}},
      "stroke": {"field": "s", "type": "nominal",
                 "scale": {"domain": ["1h","1c","2h","2c","3h","3c","4h","4c"], "range": ["#F8A226","#F58A5E","#0D7E3C","#2E8A50","#2468BE","#5B62C4","#A3154F","#A060A8"]},
                 "legend": {"orient": "none", "legendX": 13, "legendY": 41, "title": null, "padding": 0,
                            "labelExpr": "slice(datum.value,0,1) + (slice(datum.value,1,2) == 'h' ? ' heating up' : ' cooling down')",
                            "labelColor": {"expr": "slice(datum.value,0,1) == '1' ? '#F26A36' : slice(datum.value,0,1) == '2' ? '#1F9950' : slice(datum.value,0,1) == '3' ? '#3647A8' : '#973C93'"},
                            "labelFont": "Liberation Sans", "labelFontSize": 15.5, "labelFontStyle": "italic", "labelOffset": 18, "rowPadding": 4,
                            "symbolSize": 49, "symbolStrokeWidth": 1.2, "symbolType": "circle",
                            "encode": {"symbols": {"update": {"fill": {"scale": "fill", "field": "value"}, "stroke": {"scale": "stroke", "field": "value"}, "opacity": {"value": 1}}}}}},
      "fill": {"field": "s", "type": "nominal",
               "scale": {"domain": ["1h","1c","2h","2c","3h","3c","4h","4c"], "range": ["#F8A226","#FFFFFF","#0D7E3C","#FFFFFF","#2468BE","#FFFFFF","#A3154F","#FFFFFF"]},
               "legend": {"orient": "none", "legendX": 13, "legendY": 41, "title": null, "padding": 0,
                          "labelExpr": "slice(datum.value,0,1) + (slice(datum.value,1,2) == 'h' ? ' heating up' : ' cooling down')",
                          "labelColor": {"expr": "slice(datum.value,0,1) == '1' ? '#F26A36' : slice(datum.value,0,1) == '2' ? '#1F9950' : slice(datum.value,0,1) == '3' ? '#3647A8' : '#973C93'"},
                          "labelFont": "Liberation Sans", "labelFontSize": 15.5, "labelFontStyle": "italic", "labelOffset": 18, "rowPadding": 4,
                          "symbolSize": 49, "symbolStrokeWidth": 1.2, "symbolType": "circle",
                          "encode": {"symbols": {"update": {"fill": {"scale": "fill", "field": "value"}, "stroke": {"scale": "stroke", "field": "value"}, "opacity": {"value": 1}}}}}}
    }
  },
  {
    "data": {"values": []},
    "mark": {"type": "point", "opacity": 0},
    "encoding": {
      "x": {"field": "T", "type": "quantitative", "axis": {"orient": "bottom", "values": [50, 150, 250, 350], "tickSize": 3, "labels": false, "domain": false, "title": null}},
      "y": {"field": "v", "type": "quantitative", "axis": {"orient": "left", "values": [-0.25, 0.25, 0.75, 1.25, 1.75, 2.25, 2.75, 3.25, 3.75], "tickSize": 3, "labels": false, "domain": false, "title": null}}
    }
  }
],
"resolve": {"axis": {"x": "independent", "y": "independent"}}
}
